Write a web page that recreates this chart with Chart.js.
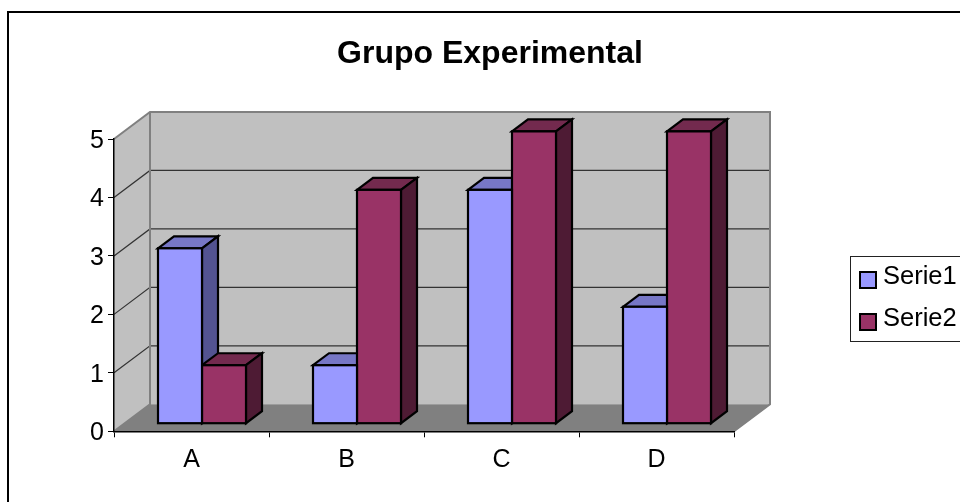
<!DOCTYPE html>
<html>
<head>
<meta charset="utf-8">
<title>Grupo Experimental</title>
<script src="https://cdn.jsdelivr.net/npm/chart.js@4"></script>
<style>
    html, body { margin: 0; padding: 0; background: #fff; overflow: hidden; }
    canvas { display: block; }
</style>
</head>
<body>
<canvas id="grafico" width="960" height="502"></canvas>
<script>
const categorias = ['A', 'B', 'C', 'D'];
const serie1 = [3, 1, 4, 2];
const serie2 = [1, 4, 5, 5];
const ticksY = [0, 1, 2, 3, 4, 5];

const fonte = '"Liberation Sans", Arial, sans-serif';

// profundidade da "caixa" 3D e das colunas
const caixa = { dx: 36, dy: -27 };
const coluna = { dx: 16, dy: -12, recuoX: 10.5, recuoY: -7.6 };

const cores = [
    { frente: '#9999ff', topo: '#7777c6', lado: '#535391' },
    { frente: '#993366', topo: '#732a4e', lado: '#4e1b34' }
];

function poligono(ctx, pts, fill, stroke, lw) {
    ctx.beginPath();
    pts.forEach((p, i) => i ? ctx.lineTo(p[0], p[1]) : ctx.moveTo(p[0], p[1]));
    ctx.closePath();
    if (fill) { ctx.fillStyle = fill; ctx.fill(); }
    if (stroke) { ctx.strokeStyle = stroke; ctx.lineWidth = lw; ctx.stroke(); }
}

// fundo, moldura, paredes, chao e linhas de grade
const pluginCaixa = {
    id: 'caixa3d',
    beforeDraw(chart) {
        const { ctx, chartArea: a, scales } = chart;
        const { dx, dy } = caixa;
        ctx.save();
        ctx.fillStyle = '#fff';
        ctx.fillRect(0, 0, chart.width, chart.height);
        ctx.strokeStyle = '#000';
        ctx.lineWidth = 2;
        ctx.strokeRect(8, 12, 1100, 1100);

        poligono(ctx, [[a.left + dx, a.top + dy], [a.right + dx, a.top + dy], [a.right + dx, a.bottom + dy], [a.left + dx, a.bottom + dy]], '#c0c0c0');
        poligono(ctx, [[a.left, a.top], [a.left + dx, a.top + dy], [a.left + dx, a.bottom + dy], [a.left, a.bottom]], '#c0c0c0');
        poligono(ctx, [[a.left, a.bottom], [a.left + dx, a.bottom + dy], [a.right + dx, a.bottom + dy], [a.right, a.bottom]], '#808080');

        ctx.strokeStyle = '#333';
        ctx.lineWidth = 1.2;
        ticksY.slice(1, -1).forEach(v => {
            const y = scales.y.getPixelForValue(v);
            ctx.beginPath();
            ctx.moveTo(a.left, y);
            ctx.lineTo(a.left + dx, y + dy);
            ctx.lineTo(a.right + dx, y + dy);
            ctx.stroke();
        });

        ctx.strokeStyle = '#808080';
        ctx.lineWidth = 2;
        ctx.beginPath();
        ctx.moveTo(a.left, a.top);
        ctx.lineTo(a.left + dx, a.top + dy);
        ctx.lineTo(a.right + dx, a.top + dy);
        ctx.lineTo(a.right + dx, a.bottom + dy);
        ctx.lineTo(a.right, a.bottom);
        ctx.moveTo(a.left + dx, a.top + dy);
        ctx.lineTo(a.left + dx, a.bottom + dy);
        ctx.lineTo(a.left, a.bottom);
        ctx.stroke();
        ctx.restore();
    }
};

// topo e lateral das colunas; a frente e preenchida pela propria Chart.js
// a Chart.js pinta a Serie2 antes da Serie1, por isso as laterais vem todas antes
const pluginColunas = {
    id: 'colunas3d',
    beforeDatasetsDraw(chart) {
        const { ctx } = chart;
        ctx.save();
        ctx.translate(coluna.recuoX, coluna.recuoY);
        chart.data.datasets.forEach((ds, i) => {
            const c = cores[i];
            chart.getDatasetMeta(i).data.forEach(el => {
                const e = el.getProps(['x', 'y', 'base', 'width'], true);
                const l = e.x - e.width / 2, r = e.x + e.width / 2;
                poligono(ctx, [[l, e.y], [l + coluna.dx, e.y + coluna.dy], [r + coluna.dx, e.y + coluna.dy], [r, e.y]], c.topo, '#000', 2.2);
                poligono(ctx, [[r, e.y], [r + coluna.dx, e.y + coluna.dy], [r + coluna.dx, e.base + coluna.dy], [r, e.base]], c.lado, '#000', 2.2);
            });
        });
        ctx.restore();
    },
    beforeDatasetDraw(chart) {
        chart.ctx.save();
        chart.ctx.translate(coluna.recuoX, coluna.recuoY);
    },
    afterDatasetDraw(chart, args) {
        const { ctx } = chart;
        ctx.strokeStyle = '#000';
        ctx.lineWidth = 2.2;
        args.meta.data.forEach(el => {
            const e = el.getProps(['x', 'y', 'base', 'width'], true);
            ctx.strokeRect(e.x - e.width / 2, e.y, e.width, e.base - e.y);
        });
        ctx.restore();
    }
};

const pluginLegenda = {
    id: 'legendaCaixa',
    afterDraw(chart) {
        const { ctx } = chart;
        ctx.save();
        ctx.fillStyle = '#fff';
        ctx.fillRect(850, 256, 120, 86);
        ctx.strokeStyle = '#222';
        ctx.lineWidth = 1;
        ctx.strokeRect(850.5, 256.5, 120, 85);
        chart.data.datasets.forEach((ds, i) => {
            const y = 272 + i * 42;
            ctx.fillStyle = ds.backgroundColor;
            ctx.fillRect(860, y, 16, 16);
            ctx.strokeStyle = '#000';
            ctx.lineWidth = 2;
            ctx.strokeRect(860, y, 16, 16);
            ctx.fillStyle = '#000';
            ctx.font = '25.5px ' + fonte;
            ctx.textBaseline = 'middle';
            ctx.textAlign = 'left';
            ctx.fillText(ds.label, 883, y + 5);
        });
        ctx.restore();
    }
};

new Chart(document.getElementById('grafico').getContext('2d'), {
    type: 'bar',
    data: {
        labels: categorias,
        datasets: [
            { label: 'Serie1', data: serie1, backgroundColor: cores[0].frente, clip: false },
            { label: 'Serie2', data: serie2, backgroundColor: cores[1].frente, clip: false }
        ]
    },
    options: {
        responsive: false,
        animation: false,
        devicePixelRatio: 1,
        layout: { padding: { left: 20, right: 0, top: 0, bottom: 0 } },
        datasets: { bar: { categoryPercentage: 88 / 155, barPercentage: 1, borderWidth: 0 } },
        plugins: {
            legend: { display: false },
            tooltip: { enabled: false },
            title: {
                display: true,
                text: 'Grupo Experimental',
                color: '#000',
                font: { family: fonte, size: 32, weight: 'bold', lineHeight: 1.2 },
                padding: { top: 35, bottom: 65.6 }
            }
        },
        scales: {
            x: {
                afterFit(s) { s.height = 70.7; },
                border: { color: '#000', width: 1.5 },
                grid: { drawOnChartArea: false, drawTicks: true, tickLength: 6, color: '#000', lineWidth: 1 },
                ticks: { color: '#000', padding: 8, font: { family: fonte, size: 25 } }
            },
            y: {
                min: 0,
                max: 5,
                afterFit(s) { s.width = 94; },
                afterBuildTicks(s) { s.ticks = ticksY.map(v => ({ value: v })); },
                border: { color: '#000', width: 1.5 },
                grid: { drawOnChartArea: false, drawTicks: true, tickLength: 6, color: '#000', lineWidth: 1 },
                ticks: { color: '#000', padding: 4, labelOffset: 2, font: { family: fonte, size: 25 } }
            },
            // so reserva o espaco da legenda a direita
            folga: {
                position: 'right',
                afterFit(s) { s.width = 226; },
                border: { display: false },
                grid: { display: false },
                ticks: { display: false }
            }
        }
    },
    plugins: [pluginCaixa, pluginColunas, pluginLegenda]
});
</script>
</body>
</html>
